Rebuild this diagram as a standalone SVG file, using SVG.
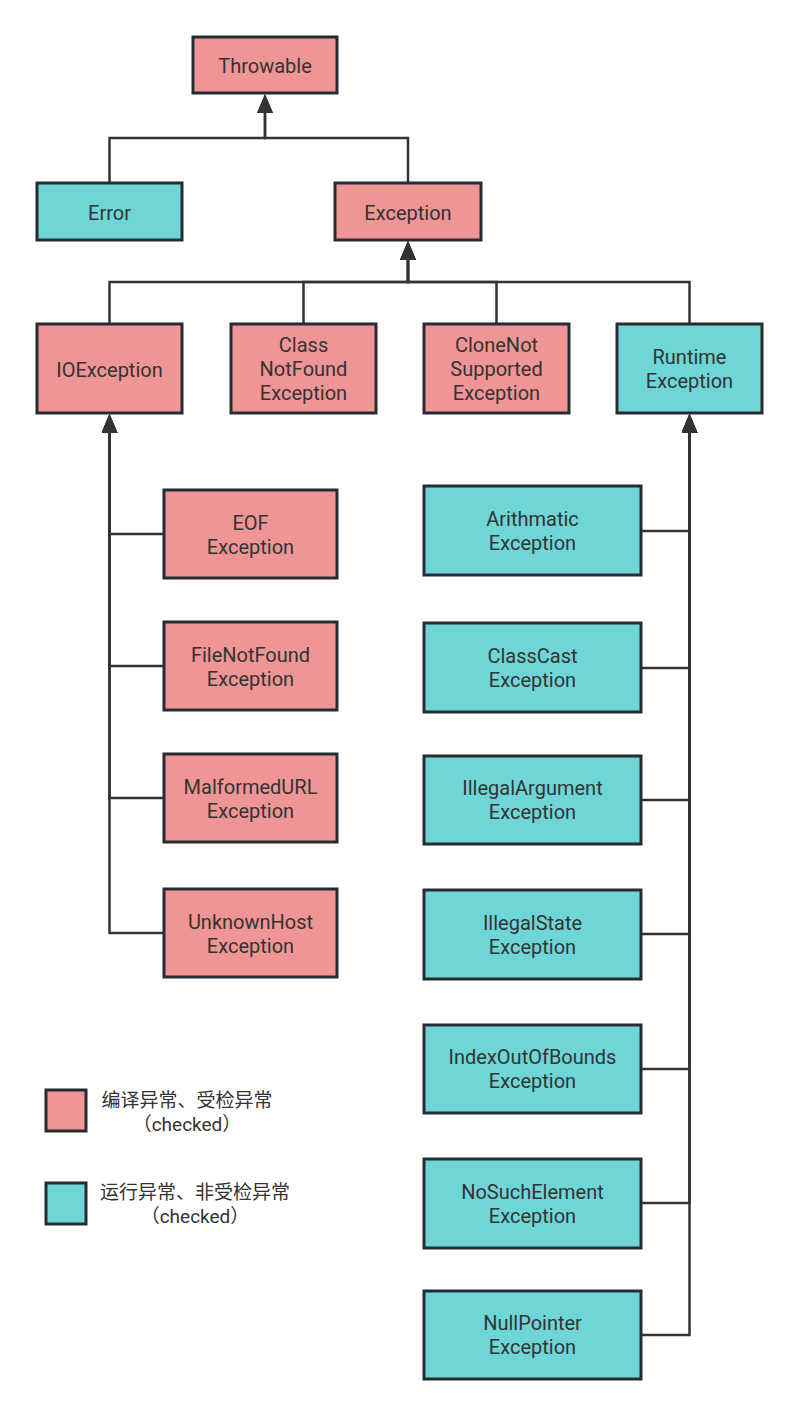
<svg xmlns="http://www.w3.org/2000/svg" width="800" height="1417" viewBox="0 0 800 1417">
<style>
.box{stroke:#262c33;stroke-width:3}
.chk{fill:#f09595}
.rt{fill:#6ed6d6}
.t{font-family:Roboto,"Noto Sans","Noto Sans CJK SC",sans-serif;font-size:20px;fill:#333;text-anchor:middle}
.lg{font-family:Roboto,"Noto Sans CJK SC",sans-serif;font-size:19px;fill:#333;text-anchor:middle}
.c{fill:none;stroke:#333;stroke-width:2.5;stroke-linejoin:miter}
</style>
<defs>
<marker id="arr" viewBox="0 0 19 16" refX="0" refY="8" markerWidth="19" markerHeight="16" markerUnits="userSpaceOnUse" orient="auto">
<path d="M0,0 L19,8 L0,16 z" fill="#333"/>
</marker>
</defs>
<rect width="800" height="1417" fill="#fff"/>
<g id="connectors">
<path class="c" d="M109.5,183 V138 H265 V113" marker-end="url(#arr)"/>
<path class="c" d="M408,183 V138 H265 V113" marker-end="url(#arr)"/>
<path class="c" d="M109.5,324 V282 H408 V260" marker-end="url(#arr)"/>
<path class="c" d="M303.5,324 V282 H408 V260" marker-end="url(#arr)"/>
<path class="c" d="M496.5,324 V282 H408 V260" marker-end="url(#arr)"/>
<path class="c" d="M689.5,324 V282 H408 V260" marker-end="url(#arr)"/>
<path class="c" d="M164,534 H109.5 V433" marker-end="url(#arr)"/>
<path class="c" d="M164,666 H109.5 V433" marker-end="url(#arr)"/>
<path class="c" d="M164,798 H109.5 V433" marker-end="url(#arr)"/>
<path class="c" d="M164,933 H109.5 V433" marker-end="url(#arr)"/>
<path class="c" d="M642,531 H689.5 V433" marker-end="url(#arr)"/>
<path class="c" d="M642,668 H689.5 V433" marker-end="url(#arr)"/>
<path class="c" d="M642,800 H689.5 V433" marker-end="url(#arr)"/>
<path class="c" d="M642,934 H689.5 V433" marker-end="url(#arr)"/>
<path class="c" d="M642,1069 H689.5 V433" marker-end="url(#arr)"/>
<path class="c" d="M642,1203 H689.5 V433" marker-end="url(#arr)"/>
<path class="c" d="M642,1335 H689.5 V433" marker-end="url(#arr)"/>
</g>
<g id="throwable"><rect class="box chk" x="193" y="37" width="144" height="56"/><text class="t" x="265" y="73">Throwable</text></g>
<g id="error"><rect class="box rt" x="37" y="183" width="145" height="57"/><text class="t" x="109.5" y="220">Error</text></g>
<g id="exception"><rect class="box chk" x="335" y="183" width="146" height="57"/><text class="t" x="408" y="220">Exception</text></g>
<g id="ioexception"><rect class="box chk" x="37" y="324" width="145" height="89"/><text class="t" x="109.5" y="377">IOException</text></g>
<g id="classnotfound"><rect class="box chk" x="231" y="324" width="145" height="89"/><text class="t" x="303.5" y="352">Class<tspan x="303.5" dy="24">NotFound</tspan><tspan x="303.5" dy="24">Exception</tspan></text></g>
<g id="clonenotsupported"><rect class="box chk" x="424" y="324" width="145" height="89"/><text class="t" x="496.5" y="352">CloneNot<tspan x="496.5" dy="24">Supported</tspan><tspan x="496.5" dy="24">Exception</tspan></text></g>
<g id="runtime"><rect class="box rt" x="617" y="324" width="145" height="89"/><text class="t" x="689.5" y="364">Runtime<tspan x="689.5" dy="24">Exception</tspan></text></g>
<g id="eof"><rect class="box chk" x="164" y="490" width="173" height="88"/><text class="t" x="250.5" y="530">EOF<tspan x="250.5" dy="24">Exception</tspan></text></g>
<g id="filenotfound"><rect class="box chk" x="164" y="622" width="173" height="88"/><text class="t" x="250.5" y="662">FileNotFound<tspan x="250.5" dy="24">Exception</tspan></text></g>
<g id="malformedurl"><rect class="box chk" x="164" y="754" width="173" height="88"/><text class="t" x="250.5" y="794">MalformedURL<tspan x="250.5" dy="24">Exception</tspan></text></g>
<g id="unknownhost"><rect class="box chk" x="164" y="889" width="173" height="88"/><text class="t" x="250.5" y="929">UnknownHost<tspan x="250.5" dy="24">Exception</tspan></text></g>
<g id="arithmatic"><rect class="box rt" x="424" y="486" width="217" height="89"/><text class="t" x="532.5" y="526">Arithmatic<tspan x="532.5" dy="24">Exception</tspan></text></g>
<g id="classcast"><rect class="box rt" x="424" y="623" width="217" height="89"/><text class="t" x="532.5" y="663">ClassCast<tspan x="532.5" dy="24">Exception</tspan></text></g>
<g id="illegalargument"><rect class="box rt" x="424" y="756" width="217" height="88"/><text class="t" x="532.5" y="795">IllegalArgument<tspan x="532.5" dy="24">Exception</tspan></text></g>
<g id="illegalstate"><rect class="box rt" x="424" y="890" width="217" height="89"/><text class="t" x="532.5" y="930">IllegalState<tspan x="532.5" dy="24">Exception</tspan></text></g>
<g id="indexoutofbounds"><rect class="box rt" x="424" y="1025" width="217" height="88"/><text class="t" x="532.5" y="1064">IndexOutOfBounds<tspan x="532.5" dy="24">Exception</tspan></text></g>
<g id="nosuchelement"><rect class="box rt" x="424" y="1159" width="217" height="89"/><text class="t" x="532.5" y="1199">NoSuchElement<tspan x="532.5" dy="24">Exception</tspan></text></g>
<g id="nullpointer"><rect class="box rt" x="424" y="1291" width="217" height="88"/><text class="t" x="532.5" y="1330">NullPointer<tspan x="532.5" dy="24">Exception</tspan></text></g>
<g id="legend-checked"><rect class="box chk" x="46" y="1090" width="40" height="41"/><text class="lg" x="187" y="1106.5">编译异常、受检异常<tspan x="187" dy="24">（checked）</tspan></text></g>
<g id="legend-unchecked"><rect class="box rt" x="46" y="1183" width="40" height="41"/><text class="lg" x="195" y="1199">运行异常、非受检异常<tspan x="195" dy="24">（checked）</tspan></text></g>
</svg>
